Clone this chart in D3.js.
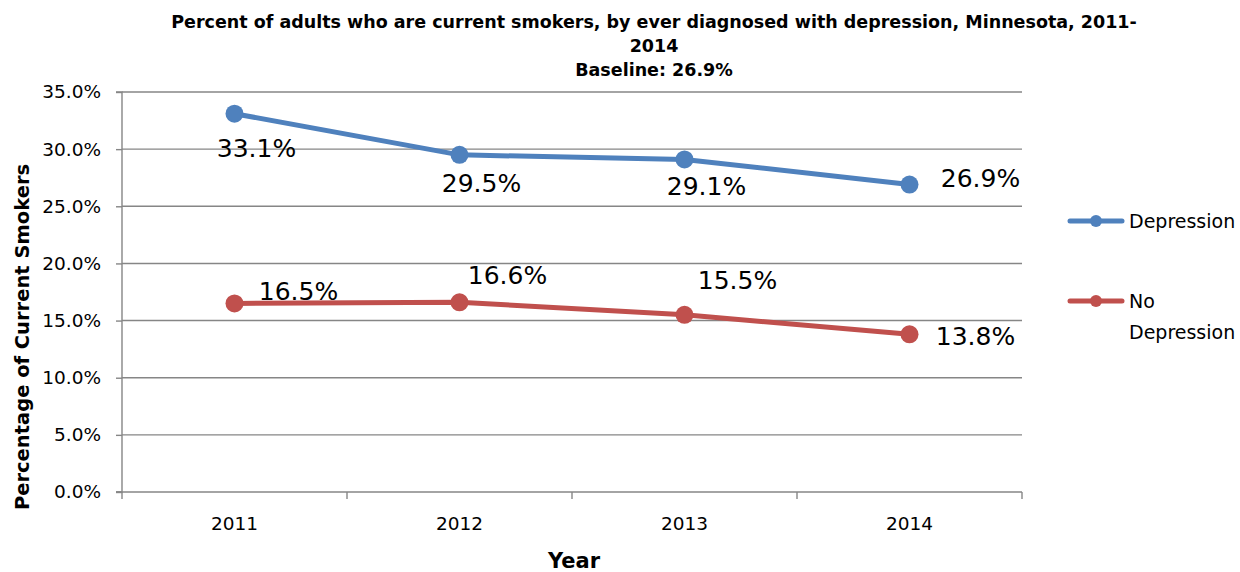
<!DOCTYPE html>
<html>
<head>
<meta charset="utf-8">
<script src="https://cdn.jsdelivr.net/npm/d3@7"></script>
<style>
  body { margin: 0; background: #fff; }
  svg { display: block; font-family: "DejaVu Sans", sans-serif; }
</style>
</head>
<body>
<svg id="chart" width="1240" height="572"></svg>
<script>
// Chart data
const years = ["2011", "2012", "2013", "2014"];
const depression = [33.1, 29.5, 29.1, 26.9];
const noDepression = [16.5, 16.6, 15.5, 13.8];
const yTicks = [0, 5, 10, 15, 20, 25, 30, 35];
const seriesNames = ["Depression", "No Depression"];
const titleLines = [
  "Percent of adults who are current smokers, by ever diagnosed with depression, Minnesota, 2011-",
  "2014",
  "Baseline: 26.9%"
];

const colors = ["#4F81BD", "#C0504D"];
const gridColor = "#868686";
const font = "'DejaVu Sans', sans-serif";

const svg = d3.select("#chart");
const plot = { left: 122, right: 1022, top: 92, bottom: 492 };

const x = d3.scaleBand().domain(years).range([plot.left, plot.right]).padding(0);
const y = d3.scaleLinear().domain([0, 35]).range([plot.bottom, plot.top]);
const cx = d => x(d) + x.bandwidth() / 2;

// Title
svg.append("g").selectAll("text").data(titleLines).join("text")
  .attr("x", 654)
  .attr("y", (d, i) => 28 + i * 24)
  .attr("text-anchor", "middle")
  .attr("font-weight", "bold")
  .attr("font-size", 17.5)
  .attr("fill", "#000")
  .text(d => d);

// Horizontal gridlines
svg.append("g").selectAll("line").data(yTicks.filter(t => t > 0)).join("line")
  .attr("x1", plot.left).attr("x2", plot.right)
  .attr("y1", d => y(d)).attr("y2", d => y(d))
  .attr("stroke", gridColor).attr("stroke-width", 1.4);

// Y axis
const yAxis = d3.axisLeft(y).tickValues(yTicks).tickSize(6).tickPadding(15)
  .tickFormat(d => d3.format(".1f")(d) + "%");
const gy = svg.append("g").attr("transform", `translate(${plot.left},0)`).call(yAxis);
gy.select(".domain").attr("stroke", gridColor).attr("stroke-width", 1.4)
  .attr("d", `M-6,${plot.top}H0V${plot.bottom}H-6`);
gy.selectAll(".tick line").attr("stroke", gridColor).attr("stroke-width", 1.4);
gy.selectAll(".tick text").attr("font-size", 18.5).attr("fill", "#000")
  .attr("font-family", font);

// X axis with ticks between categories
const gx = svg.append("g").attr("transform", `translate(0,${plot.bottom})`);
gx.append("line").attr("x1", plot.left - 6).attr("x2", plot.right)
  .attr("stroke", gridColor).attr("stroke-width", 1.4);
const boundaries = years.map(d => x(d)).concat([plot.right]);
gx.selectAll("line.tk").data(boundaries).join("line").attr("class", "tk")
  .attr("x1", d => d).attr("x2", d => d).attr("y1", 0).attr("y2", 7)
  .attr("stroke", gridColor).attr("stroke-width", 1.4);
gx.selectAll("text").data(years).join("text")
  .attr("x", d => cx(d)).attr("y", 38)
  .attr("text-anchor", "middle").attr("font-size", 18.5).attr("fill", "#000")
  .text(d => d);

// Axis titles
svg.append("text").attr("x", 574).attr("y", 568)
  .attr("text-anchor", "middle").attr("font-weight", "bold").attr("font-size", 21)
  .text("Year");
svg.append("text").attr("transform", "translate(29,337) rotate(-90)")
  .attr("text-anchor", "middle").attr("font-weight", "bold").attr("font-size", 19.5)
  .text("Percentage of Current Smokers");

// Series lines and markers
const line = d3.line().x(d => cx(d.year)).y(d => y(d.value));
const series = [depression, noDepression].map((vals, i) => ({
  name: seriesNames[i], color: colors[i],
  points: vals.map((v, j) => ({ year: years[j], value: v }))
}));

series.forEach(s => {
  svg.append("path").datum(s.points).attr("d", line)
    .attr("fill", "none").attr("stroke", s.color).attr("stroke-width", 5)
    .attr("stroke-linejoin", "round");
  svg.append("g").selectAll("circle").data(s.points).join("circle")
    .attr("cx", d => cx(d.year)).attr("cy", d => y(d.value)).attr("r", 9)
    .attr("fill", s.color);
});

// Data labels: offset of each label's centre from its point
const labelSize = 25;
const labelOffsets = [
  [[22, 34], [22, 28], [22, 26], [71, -7]],
  [[64, -13], [48, -27], [53, -35], [66, 2]]
];
series.forEach((s, i) => {
  svg.append("g").selectAll("text").data(s.points).join("text")
    .attr("x", (d, j) => cx(d.year) + labelOffsets[i][j][0])
    .attr("y", (d, j) => y(d.value) + labelOffsets[i][j][1] + labelSize * 0.365)
    .attr("text-anchor", "middle")
    .attr("font-size", labelSize).attr("fill", "#000")
    .text(d => d.value.toFixed(1) + "%");
});

// Legend
const legend = svg.append("g");
const legendRows = [
  { y: 221, lines: ["Depression"] },
  { y: 301, lines: ["No", "Depression"] }
];
legendRows.forEach((r, i) => {
  legend.append("line").attr("x1", 1070).attr("x2", 1122).attr("y1", r.y).attr("y2", r.y)
    .attr("stroke", colors[i]).attr("stroke-width", 5).attr("stroke-linecap", "round");
  legend.append("circle").attr("cx", 1096).attr("cy", r.y).attr("r", 6).attr("fill", colors[i]);
  r.lines.forEach((t, k) => {
    legend.append("text").attr("x", 1129).attr("y", r.y + k * 31 + 19 * 0.365)
      .attr("font-size", 19).attr("fill", "#000")
      .text(t);
  });
});
</script>
</body>
</html>
